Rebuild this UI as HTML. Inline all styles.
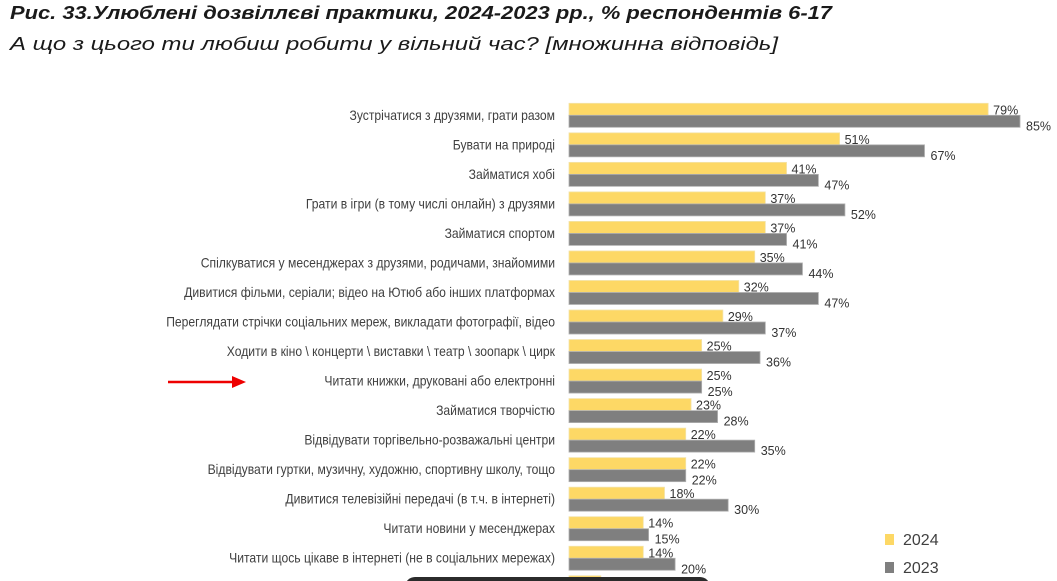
<!DOCTYPE html>
<html><head><meta charset="utf-8"><style>
body{margin:0;background:#fff;width:1057px;height:581px;overflow:hidden}
svg{display:block;font-family:"Liberation Sans","DejaVu Sans",sans-serif}
</style></head><body>
<svg id="chart" width="1057" height="581">
<text x="10" y="19" font-size="18" font-weight="bold" font-style="italic" fill="#1a1a1a" textLength="822" lengthAdjust="spacingAndGlyphs">Рис. 33.Улюблені дозвіллєві практики, 2024-2023 рр., % респондентів 6-17</text>
<text x="10" y="50" font-size="18" font-style="italic" fill="#1a1a1a" textLength="768" lengthAdjust="spacingAndGlyphs">А що з цього ти любиш робити у вільний час? [множинна відповідь]</text>
<g id="labels" transform="translate(555,0) scale(0.9,1)"></g>
<g id="bars"></g>
<line x1="168" y1="382" x2="236" y2="382" stroke="#e00" stroke-width="2.5"/>
<polygon points="246,382 232,376 232,388" fill="#e00"/>
<rect x="885" y="534" width="9" height="11" fill="#fdd865"/>
<text x="903" y="545" font-size="16" fill="#404040">2024</text>
<rect x="885" y="562" width="9" height="11" fill="#7f7f7f"/>
<text x="903" y="573" font-size="16" fill="#404040">2023</text>
<rect x="405" y="577" width="305" height="20" rx="10" fill="#2b2b2b"/>
</svg>
<script>
const categories=["Зустрічатися з друзями, грати разом","Бувати на природі","Займатися хобі","Грати в ігри (в тому числі онлайн) з друзями","Займатися спортом","Спілкуватися у месенджерах з друзями, родичами, знайомими","Дивитися фільми, серіали; відео на Ютюб або інших платформах","Переглядати стрічки соціальних мереж, викладати фотографії, відео","Ходити в кіно \\ концерти \\ виставки \\ театр \\ зоопарк \\ цирк","Читати книжки, друковані або електронні","Займатися творчістю","Відвідувати торгівельно-розважальні центри","Відвідувати гуртки, музичну, художню, спортивну школу, тощо","Дивитися телевізійні передачі (в т.ч. в інтернеті)","Читати новини у месенджерах","Читати щось цікаве в інтернеті (не в соціальних мережах)",""];
const values2024=[79,51,41,37,37,35,32,29,25,25,23,22,22,18,14,14,6];
const values2023=[85,67,47,52,41,44,47,37,36,25,28,35,22,30,15,20,null];
const NS="http://www.w3.org/2000/svg";
const x0=569, pxPer=5.306, top0=103.3, pitch=29.53, bh=12;
const xs=v=>x0+v*pxPer;
const rowY=i=>top0+i*pitch;
const L=document.getElementById('labels'), B=document.getElementById('bars');
function mk(tag,attrs,parent){const e=document.createElementNS(NS,tag);for(const k in attrs)e.setAttribute(k,attrs[k]);parent.appendChild(e);return e;}
categories.forEach((c,i)=>{
  const y=rowY(i);
  if(c){const t=mk('text',{x:0,y:y+bh+4.5,'font-size':13.5,fill:'#404040','text-anchor':'end'},L);
    
    
    t.textContent=c;}
  const v1=values2024[i];
  const r1=mk('rect',{x:x0,y:y,width:xs(v1)-x0,height:bh,fill:'#fdd865',stroke:'#f3e3a8','stroke-width':0.8},B);
  
  
  const t1=mk('text',{x:xs(v1)+5,y:y+bh-1,'font-size':12.5,fill:'#333'},B);
  
  
  t1.textContent=v1+'%';
  const v2=values2023[i];
  if(v2!=null){
    const r2=mk('rect',{x:x0,y:y+bh,width:xs(v2)-x0,height:bh,fill:'#7f7f7f',stroke:'#b0b0b0','stroke-width':0.8},B);
    
    
    const t2=mk('text',{x:xs(v2)+6,y:y+2*bh+3,'font-size':12.5,fill:'#333'},B);
    
    
    t2.textContent=v2+'%';
  }
});
</script>
</body></html>
